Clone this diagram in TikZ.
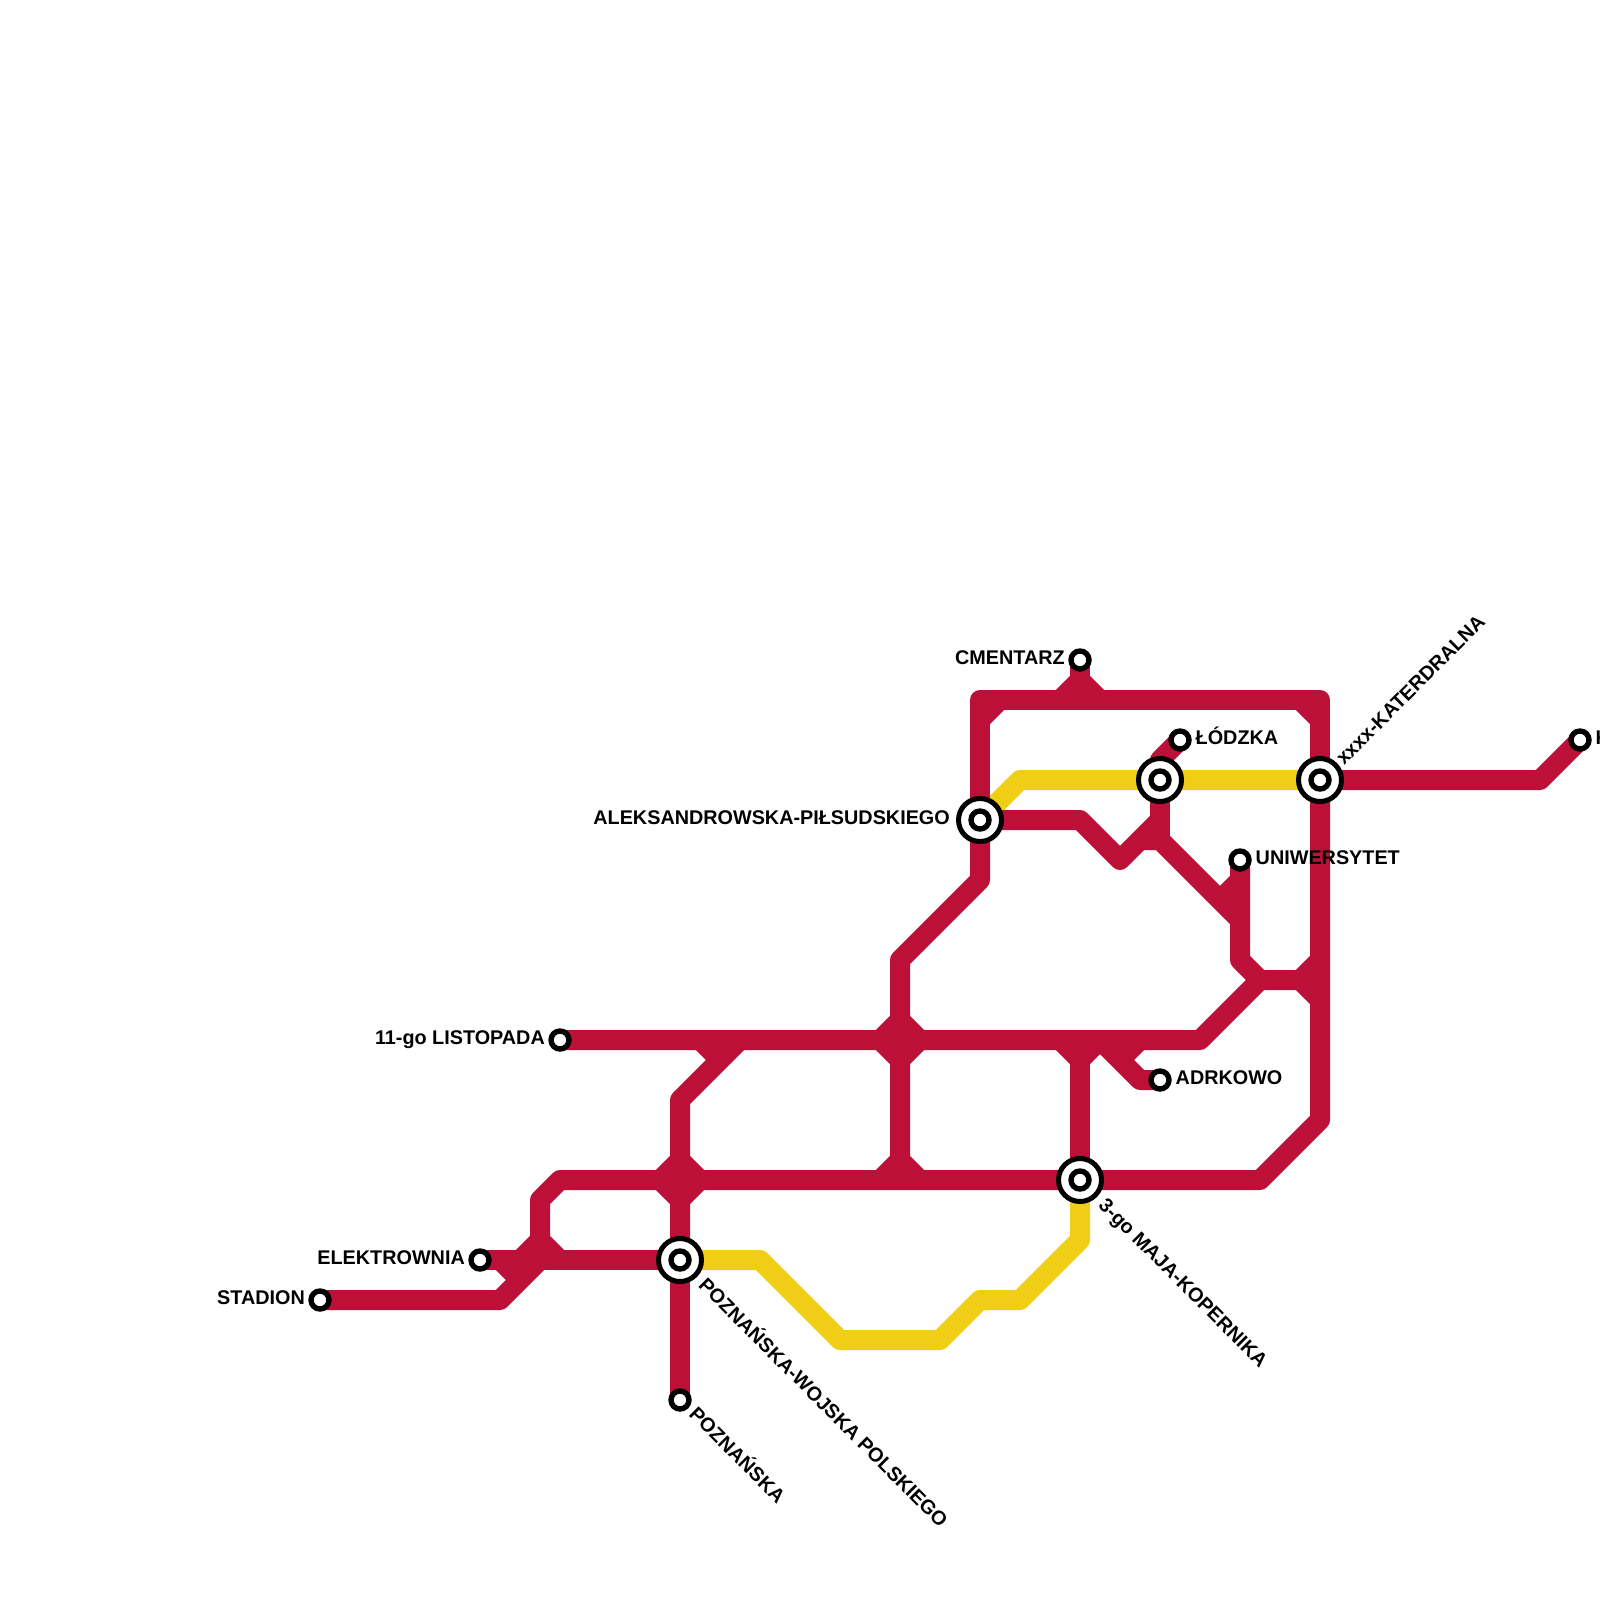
\documentclass[tikz,border=0pt]{standalone}
\usepackage{fontspec}
\setmainfont{Liberation Sans}
\definecolor{metrored}{HTML}{BD1038}
\definecolor{metroyellow}{HTML}{F0CE15}
\pgfdeclarelayer{lines}
\pgfsetlayers{lines,main}
\tikzset{
  redline/.style={draw=metrored,line width=20pt,line join=round},
  yellowline/.style={draw=metroyellow,line width=20pt,line join=round},
  stationdot/.style={circle,draw=black,fill=white,line width=5.4pt,minimum size=18pt,inner sep=0pt,outer sep=0pt},
  interchange/.style={circle,draw=black,fill=white,line width=5pt,minimum size=43pt,inner sep=0pt,outer sep=0pt},
  lbl/.style={inner sep=0pt,text height=14pt,text depth=0pt,font=\fontsize{19.8}{21}\selectfont\bfseries,text=black},
  lw/.style={lbl,anchor=west},
  le/.style={lbl,anchor=east}
}
\begin{document}
\begin{tikzpicture}[x=1pt,y=-1pt]
\useasboundingbox (0,0) rectangle (1600,1600);
% interchange stations
\node[interchange] (poznwp) at (680,1260) {};
\node[stationdot] (poznwpi) at (680,1260) {};
\node[interchange] (maja) at (1080,1180) {};
\node[stationdot] (majai) at (1080,1180) {};
\node[interchange] (aleks) at (980,820) {};
\node[stationdot] (aleksi) at (980,820) {};
\node[interchange] (mid) at (1160,780) {};
\node[stationdot] (midi) at (1160,780) {};
\node[interchange] (kat) at (1320,780) {};
\node[stationdot] (kati) at (1320,780) {};
% simple stations
\node[stationdot] (stadion) at (320,1300) {};
\node[stationdot] (elek) at (480,1260) {};
\node[stationdot] (listop) at (560,1040) {};
\node[stationdot] (pozn) at (680,1400) {};
\node[stationdot] (cment) at (1080,660) {};
\node[stationdot] (lodz) at (1180,740) {};
\node[stationdot] (uni) at (1240,860) {};
\node[stationdot] (adrk) at (1160,1080) {};
\node[stationdot] (kend) at (1580,740) {};
% lines
\begin{pgfonlayer}{lines}
\draw[yellowline] (kat.center) -- (1020,780) -- (aleks.center);
\draw[yellowline] (poznwp.center) -- (760,1260) -- (840,1340) -- (940,1340) -- (980,1300) -- (1020,1300) -- (1080,1240) -- (maja.center);
% main red lines
\draw[redline] (stadion.center) -- (500,1300) -- (540,1260) -- (540,1200) -- (560,1180) -- (maja.center);
\draw[redline] (maja.center) -- (1260,1180) -- (1320,1120) -- (kat.center);
\draw[redline] (kat.center) -- (1320,700) -- (980,700) -- (aleks.center);
\draw[redline] (aleks.center) -- (980,880) -- (900,960) -- (900,1180);
\draw[redline] (elek.center) -- (poznwp.center);
\draw[redline] (listop.center) -- (1200,1040) -- (1260,980) -- (1300,980);
\draw[redline] (740,1040) -- (680,1100) -- (poznwp.center);
\draw[redline] (poznwp.center) -- (pozn.center);
\draw[redline] (1080,1040) -- (maja.center);
\draw[redline] (aleks.center) -- (1080,820) -- (1120,860) -- (1160,820);
\draw[redline] (mid.center) -- (1160,840);
\draw[redline] (mid.center) -- (1160,760) -- (lodz.center);
\draw[redline] (1140,840) -- (1160,840) -- (1240,920);
\draw[redline] (uni.center) -- (1240,960) -- (1260,980);
\draw[redline] (kat.center) -- (1540,780) -- (kend.center);
\draw[redline] (1100,1040) -- (1140,1080) -- (adrk.center);
\draw[redline] (cment.center) -- (1080,700);
% fillets
\draw[redline] (1060,700) -- (1080,680) -- (1100,700);
\draw[redline] (980,720) -- (1000,700);
\draw[redline] (1300,700) -- (1320,720);
\draw[redline] (1240,880) -- (1220,900);
\draw[redline] (1300,980) -- (1320,960);
\draw[redline] (1300,980) -- (1320,1000);
\draw[redline] (880,1040) -- (900,1020) -- (920,1040) -- (900,1060) -- cycle;
\draw[redline] (880,1180) -- (900,1160) -- (920,1180);
\draw[redline] (1060,1040) -- (1080,1060) -- (1100,1040);
\draw[redline] (1120,1060) -- (1140,1040);
\draw[redline] (700,1040) -- (720,1060);
\draw[redline] (660,1180) -- (680,1160) -- (700,1180) -- (680,1200) -- cycle;
\draw[redline] (520,1260) -- (540,1240) -- (560,1260);
\draw[redline] (500,1260) -- (520,1280);
\end{pgfonlayer}
% labels
\node[le] (t1) at ([shift={(-15,-2.5)}]stadion.center) {STADION};
\node[le] (t2) at ([shift={(-15,-2.5)}]elek.center) {ELEKTROWNIA};
\node[le] (t3) at ([shift={(-15,-2.5)}]listop.center) {11-go LISTOPADA};
\node[le] (t4) at ([shift={(-15,-2.5)}]cment.center) {CMENTARZ};
\node[le] (t5) at ([shift={(-30,-2.5)}]aleks.center) {ALEKSANDROWSKA-PIŁSUDSKIEGO};
\node[lw] (t6) at ([shift={(15.5,-2.5)}]lodz.center) {ŁÓDZKA};
\node[lw] (t7) at ([shift={(15.5,-2.5)}]uni.center) {UNIWERSYTET};
\node[lw] (t8) at ([shift={(15.5,-2.5)}]adrk.center) {ADRKOWO};
\node[lw] (t9) at ([shift={(15.5,-2.5)}]kend.center) {K};
\node[lw,rotate=-45] (t10) at ([shift={(22.5,21.5)}]poznwp.center) {POZNAŃSKA-WOJSKA POLSKIEGO};
\node[lw,rotate=-45] (t11) at ([shift={(22.5,21.5)}]maja.center) {3-go MAJA-KOPERNIKA};
\node[lw,rotate=-45] (t12) at ([shift={(13,10.5)}]pozn.center) {POZNAŃSKA};
\node[lw,rotate=45] (t13) at ([shift={(19,-19)}]kat.center) {xxxx-KATERDRALNA};
\end{tikzpicture}
\end{document}
